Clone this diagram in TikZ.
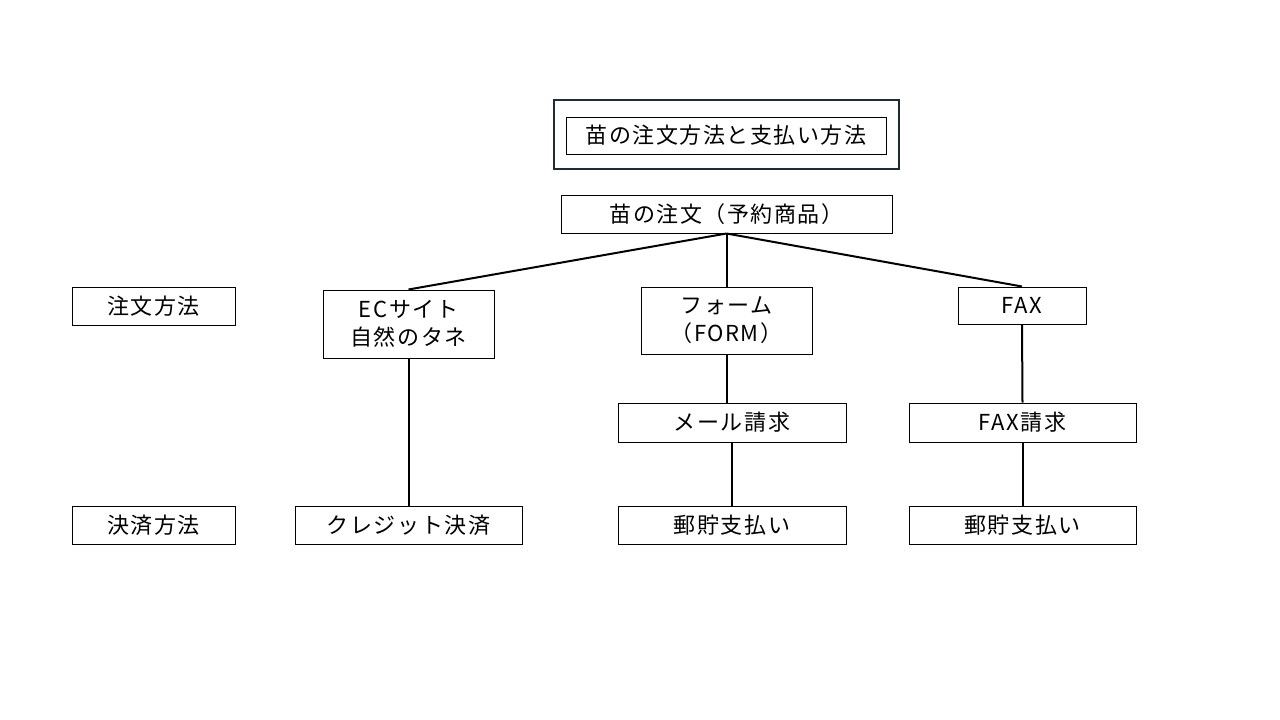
\documentclass[tikz,border=0pt]{standalone}
\usepackage{fontspec}
\setmainfont[LetterSpace=7]{Noto Sans CJK JP}
\begin{document}
\begin{tikzpicture}[x=1pt,y=-1pt,
  box/.style={draw=black,line width=1pt,rectangle,inner sep=0pt,font=\fontsize{22}{28}\selectfont,align=center},
  link/.style={draw=black,line width=2pt}]
\useasboundingbox (0,0) rectangle (1280,720);
\newcommand{\bx}[6]{\node[box,minimum width={#4-#3},minimum height={#6-#5}] (#1) at ({(#3+#4)/2},{(#5+#6)/2}) {#2};}
\draw[line width=2.6pt,draw={rgb,255:red,30;green,45;blue,52}] (554,100) rectangle (899,169);
\bx{title}{苗の注文方法と支払い方法}{566}{886}{117}{154}
\bx{root}{苗の注文（予約商品）}{561}{892}{195}{233}
\bx{lab1}{注文方法}{72}{235}{287}{325}
\bx{lab2}{決済方法}{72}{235}{506}{544}
\bx{ec}{ECサイト\\自然のタネ}{323}{494}{290}{358}
\bx{form}{フォーム\\（FORM）}{641}{812}{287}{354}
\bx{fax}{FAX}{958}{1086}{287}{324}
\bx{mail}{メール請求}{618}{846}{403}{442}
\bx{faxreq}{FAX請求}{909}{1136}{403}{442}
\bx{credit}{クレジット決済}{295}{522}{506}{544}
\bx{pay1}{郵貯支払い}{618}{846}{506}{544}
\bx{pay2}{郵貯支払い}{909}{1136}{506}{544}
\draw[link] (root.south) -- (ec.north);
\draw[link] (root.south) -- (form.north);
\draw[link] (root.south) -- (fax.north);
\draw[link] (ec.south) -- (credit.north);
\draw[link] (form.south) -- (form.south |- mail.north);
\draw[link] (mail.south) -- (pay1.north);
\draw[link] (fax.south) -- (faxreq.north);
\draw[link] (faxreq.south) -- (pay2.north);
\end{tikzpicture}
\end{document}
